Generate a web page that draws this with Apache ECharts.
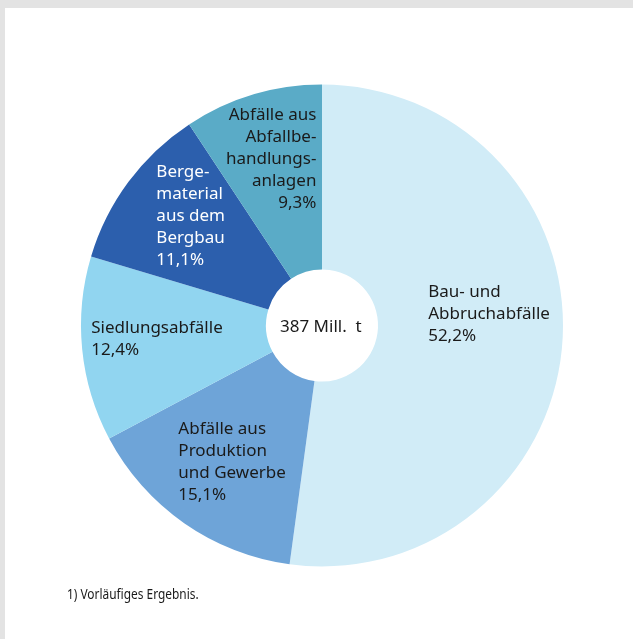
<!DOCTYPE html>
<html>
<head>
<meta charset="utf-8">
<script src="https://cdn.jsdelivr.net/npm/echarts@6/dist/echarts.min.js"></script>
<style>
  html, body { margin: 0; padding: 0; background: #e3e3e3; }
  #chart { position: absolute; left: 5px; top: 8px; width: 628px; height: 631px; background: #ffffff; }
</style>
</head>
<body>
<div id="chart"></div>
<script>
// Abfallaufkommen nach Abfallarten (Anteile in %)
var categories = [
	'Bau- und\nAbbruchabfälle',
	'Abfälle aus\nProduktion\nund Gewerbe',
	'Siedlungsabfälle',
	'Berge-\nmaterial\naus dem\nBergbau',
	'Abfälle aus\nAbfallbe-\nhandlungs-\nanlagen'
];
var shares = [52.2, 15.1, 12.4, 11.1, 9.3];
var totalLabel = '387 Mill.  t';
var footnote = '1) Vorläufiges Ergebnis.';

var colors = ['#d1ecf7', '#6ea4d8', '#91d5f0', '#2c5fad', '#5aabc7'];
var textColors = ['#1a1a1a', '#1a1a1a', '#1a1a1a', '#ffffff', '#1a1a1a'];
// label placement relative to the default inside position
var labelTweaks = [
	{ align: 'left', dx: -45, dy: -22 },
	{ align: 'left', dx: -57, dy: 12 },
	{ align: 'left', dx: -80, dy: -1 },
	{ align: 'left', dx: -44, dy: -19 },
	{ align: 'right', dx: 38, dy: -21 }
];

var fontFamily = '"Noto Sans", sans-serif';
var chart = echarts.init(document.getElementById('chart'));

function fmtPct(v) {
	return v.toFixed(1).replace('.', ',') + '%';
}

var pieData = [];
for (var i = 0; i < categories.length; i++) {
	pieData.push({
		name: categories[i],
		value: shares[i],
		itemStyle: { color: colors[i] },
		label: { color: textColors[i] }
	});
}

chart.setOption({
	animation: false,
	graphic: [
		{
			type: 'text',
			left: 317 - 42,
			top: 317 - 6,
			style: { text: totalLabel, fontFamily: fontFamily, fontSize: 17, fill: '#1a1a1a' }
		},
		{
			type: 'text',
			x: 62,
			y: 580,
			scaleX: 0.85,
			style: { text: footnote, fontFamily: fontFamily, fontSize: 14, fill: '#1a1a1a' }
		}
	],
	series: [{
		type: 'pie',
		center: [317, 317.5],
		radius: [56, 241],
		startAngle: 90,
		clockwise: true,
		avoidLabelOverlap: false,
		emphasis: { disabled: true },
		label: {
			show: true,
			position: 'inside',
			fontFamily: fontFamily,
			fontSize: 17,
			lineHeight: 22,
			formatter: function (p) {
				return p.name + '\n' + fmtPct(p.value);
			}
		},
		labelLine: { show: false },
		labelLayout: function (p) {
			var t = labelTweaks[p.dataIndex];
			return { align: t.align, dx: t.dx, dy: t.dy };
		},
		data: pieData
	}]
});
</script>
</body>
</html>
